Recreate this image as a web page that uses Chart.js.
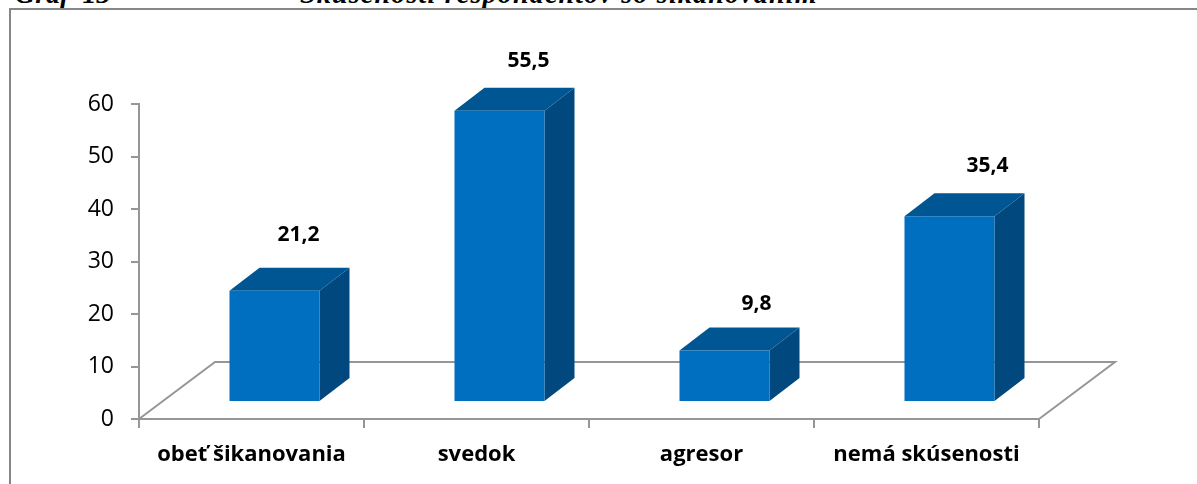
<!DOCTYPE html>
<html><head><meta charset="utf-8">
<script src="https://cdn.jsdelivr.net/npm/chart.js@4"></script>
<style>
html,body{margin:0;padding:0;background:#fff;overflow:hidden}
#wrap{position:relative;width:1197px;height:484px;overflow:hidden}
#frame{position:absolute;left:9px;top:8px;width:1188px;height:476px;border-left:2px solid #868686;border-top:2px solid #868686;box-sizing:border-box}
canvas{position:absolute;left:0;top:0}
.cap{position:absolute;top:-22px;font:italic bold 28px "Liberation Serif";color:#000;white-space:nowrap;word-spacing:6px}
</style></head><body>
<div id="wrap">
<div class="cap" style="left:15px">Graf 13</div>
<div class="cap" style="left:300px;word-spacing:0;letter-spacing:1.2px">Skúsenosti respondentov so šikanovaním</div>
<div id="frame"></div>
<canvas id="c" width="1197" height="484"></canvas>
</div>
<script>
const categories = ["obeť šikanovania","svedok","agresor","nemá skúsenosti"];
const values = [21.2,55.5,9.8,35.4];
const yTicks = [0,10,20,30,40,50,60];
const labelShiftX = [24,29,32,38];
const labelShiftY = [33,27,24,27];
const DX=23,DY=17,BX=30,BY=23,FX=76,FY=57;
const fmt=v=>String(v).replace('.',',');
const view3d={id:'view3d',
 beforeDatasetsDraw(ch){
  const x=ch.scales.x,y=ch.scales.y,c=ch.ctx,b=y.getPixelForValue(0),l=x.left,r=x.right;
  c.save();c.strokeStyle='#969696';c.lineWidth=2;
  c.beginPath();c.moveTo(l,b);c.lineTo(l+FX,b-FY);c.lineTo(r+FX,b-FY);c.lineTo(r,b);c.stroke();c.restore();
 },
 beforeDatasetDraw(ch){
  const c=ch.ctx;
  ch.getDatasetMeta(0).data.forEach(e=>{
   const p=e.getProps(['x','y','base','width'],true);
   const L=p.x-p.width/2+DX,R=p.x+p.width/2+DX,T=p.y-DY,B=p.base-DY;
   c.fillStyle='#00487d';c.beginPath();c.moveTo(R,T);c.lineTo(R+BX,T-BY);c.lineTo(R+BX,B-BY);c.lineTo(R,B);c.closePath();c.fill();
   c.fillStyle='#005692';c.beginPath();c.moveTo(L,T);c.lineTo(L+BX,T-BY);c.lineTo(R+BX,T-BY);c.lineTo(R,T);c.closePath();c.fill();
  });
  c.save();c.translate(DX,-DY);
 },
 afterDatasetDraw(ch){
  const c=ch.ctx;c.restore();
  c.save();c.fillStyle='#000';c.font='bold 21px "Open Sans"';c.textAlign='center';c.textBaseline='middle';
  ch.getDatasetMeta(0).data.forEach((e,i)=>{
   c.fillText(fmt(values[i]),e.x+DX+labelShiftX[i],e.y-DY-BY-labelShiftY[i]);
  });
  c.restore();
 }
};
new Chart(document.getElementById('c'),{
 type:'bar',
 data:{labels:categories,datasets:[{data:values,backgroundColor:'#006fc0',categoryPercentage:1,barPercentage:0.4}]},
 plugins:[view3d],
 options:{responsive:false,animation:false,
  layout:{padding:{left:0,right:158,top:104,bottom:0}},
  plugins:{legend:{display:false},tooltip:{enabled:false}},
  scales:{
   x:{position:'bottom',afterFit(a){a.height=65;},border:{color:'#969696',width:2},
      grid:{display:true,drawOnChartArea:false,drawTicks:true,tickLength:9,color:'#969696',lineWidth:2},
      ticks:{color:'#000',font:{family:'"Open Sans"',size:22,weight:'bold'},padding:14,maxRotation:0}},
   y:{min:0,max:60,afterBuildTicks(a){a.ticks=yTicks.map(v=>({value:v}));},afterFit(a){a.width=139;},
      border:{color:'#969696',width:2},
      grid:{drawOnChartArea:false,drawTicks:true,tickLength:8,color:'#969696',lineWidth:2},
      ticks:{color:'#000',font:{family:'"Open Sans"',size:23},padding:17}}
  }
 }
});
</script>
</body></html>
